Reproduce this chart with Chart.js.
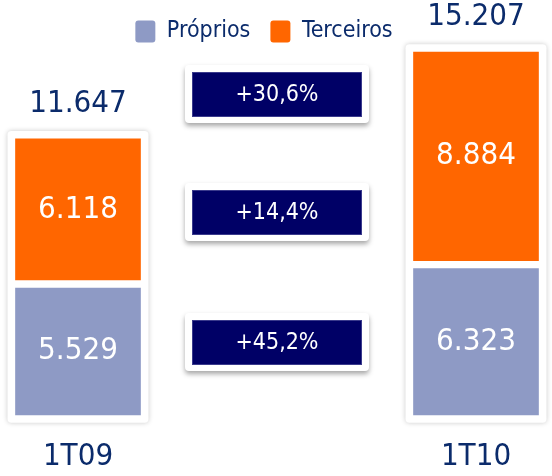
<!DOCTYPE html>
<html>
<head>
<meta charset="utf-8">
<script src="https://cdn.jsdelivr.net/npm/chart.js@4.4.0/dist/chart.umd.min.js"></script>
<style>
  html, body { margin: 0; padding: 0; background: #fff; }
  #wrap { width: 552px; height: 476px; }
</style>
</head>
<body>
<div id="wrap"><canvas id="chart" width="552" height="476"></canvas></div>
<script>
// ===== Data =====
const categories = ["1T09", "1T10"];
const proprios = [5529, 6323];
const terceiros = [6118, 8884];
const totals = [11647, 15207];
const changes = ["+30,6%", "+14,4%", "+45,2%"];

const FONT = "'DejaVu Sans Condensed', 'DejaVu Sans', sans-serif";
const NAVY = "#0b2b6b";

function fmt(v) {
  return v.toLocaleString("pt-BR");
}

// white card behind each stacked column + labels + growth boxes
const cardPlugin = {
  id: "cards",
  afterLayout(chart) {
    // legend sits a bit left of centre in the original
    chart.legend.left -= 13;
    chart.legend.right -= 13;
  },
  beforeDatasetsDraw(chart) {
    const ctx = chart.ctx;
    const low = chart.getDatasetMeta(0).data;
    const high = chart.getDatasetMeta(1).data;
    high.forEach((el, i) => {
      const w = el.width;
      const top = el.y - 4;
      const bottom = low[i].base + 4;
      ctx.save();
      ctx.shadowColor = "rgba(0,0,0,0.22)";
      ctx.shadowBlur = 5;
      ctx.fillStyle = "#fff";
      ctx.beginPath();
      ctx.roundRect(el.x - w / 2 - 4, top, w + 8, bottom - top, 4);
      ctx.fill();
      ctx.restore();
    });
  },
  afterDatasetsDraw(chart) {
    const ctx = chart.ctx;
    ctx.save();
    ctx.textAlign = "center";
    ctx.textBaseline = "middle";
    ctx.font = "31px " + FONT;
    // values inside segments
    chart.data.datasets.forEach((ds, d) => {
      chart.getDatasetMeta(d).data.forEach((el, i) => {
        ctx.fillStyle = "#fff";
        ctx.fillText(fmt(ds.data[i]), el.x, (el.y + el.base) / 2);
      });
    });
    // totals above columns
    chart.getDatasetMeta(1).data.forEach((el, i) => {
      ctx.fillStyle = NAVY;
      ctx.fillText(fmt(totals[i]), el.x, el.y - 31);
    });
    ctx.restore();
  },
  afterDraw(chart) {
    // growth boxes between the columns
    const ctx = chart.ctx;
    const cx = (chart.scales.x.left + chart.scales.x.right) / 2;
    const ys = [94, 212, 342];
    changes.forEach((txt, i) => {
      const cy = ys[i];
      ctx.save();
      ctx.shadowColor = "rgba(0,0,0,0.35)";
      ctx.shadowBlur = 5;
      ctx.shadowOffsetY = 3;
      ctx.fillStyle = "#fff";
      ctx.beginPath();
      ctx.roundRect(cx - 92, cy - 29, 184, 58, 4);
      ctx.fill();
      ctx.restore();
      ctx.save();
      ctx.fillStyle = "#000066";
      ctx.fillRect(cx - 84, cy - 21, 168, 43);
      ctx.strokeStyle = "#3a3a8c";
      ctx.lineWidth = 1;
      ctx.strokeRect(cx - 84.5, cy - 21.5, 169, 44);
      ctx.fillStyle = "#fff";
      ctx.font = "23px " + FONT;
      ctx.textAlign = "center";
      ctx.textBaseline = "middle";
      ctx.fillText(txt, cx, cy + 1);
      ctx.restore();
    });
  }
};

new Chart(document.getElementById("chart"), {
  type: "bar",
  data: {
    labels: categories,
    datasets: [
      {
        label: "Próprios",
        data: proprios,
        backgroundColor: "#8e9ac5",
        borderColor: "#fff",
        borderWidth: 4,
        borderSkipped: false,
        barThickness: 133,
        clip: false
      },
      {
        label: "Terceiros",
        data: terceiros,
        backgroundColor: "#ff6600",
        borderColor: "#fff",
        borderWidth: 4,
        borderSkipped: false,
        barThickness: 133,
        clip: false
      }
    ]
  },
  options: {
    responsive: false,
    animation: false,
    layout: { padding: { left: 78, right: 76, top: 0, bottom: -20 } },
    plugins: {
      tooltip: { enabled: false },
      legend: {
        position: "top",
        align: "center",
        labels: {
          font: { family: FONT, size: 23 },
          color: NAVY,
          boxWidth: 20,
          boxHeight: 22,
          useBorderRadius: true,
          borderRadius: 3,
          padding: 20,
          generateLabels(chart) {
            const items = Chart.defaults.plugins.legend.labels.generateLabels(chart);
            items.forEach((it) => { it.lineWidth = 0; });
            return items;
          }
        }
      }
    },
    scales: {
      x: {
        stacked: true,
        offset: false,
        grid: { display: false, drawTicks: false },
        border: { display: false },
        ticks: { font: { family: FONT, size: 31 }, color: NAVY, padding: 20 }
      },
      y: {
        stacked: true,
        display: false,
        min: 0,
        max: 15008
      }
    }
  },
  plugins: [cardPlugin]
});
</script>
</body>
</html>
